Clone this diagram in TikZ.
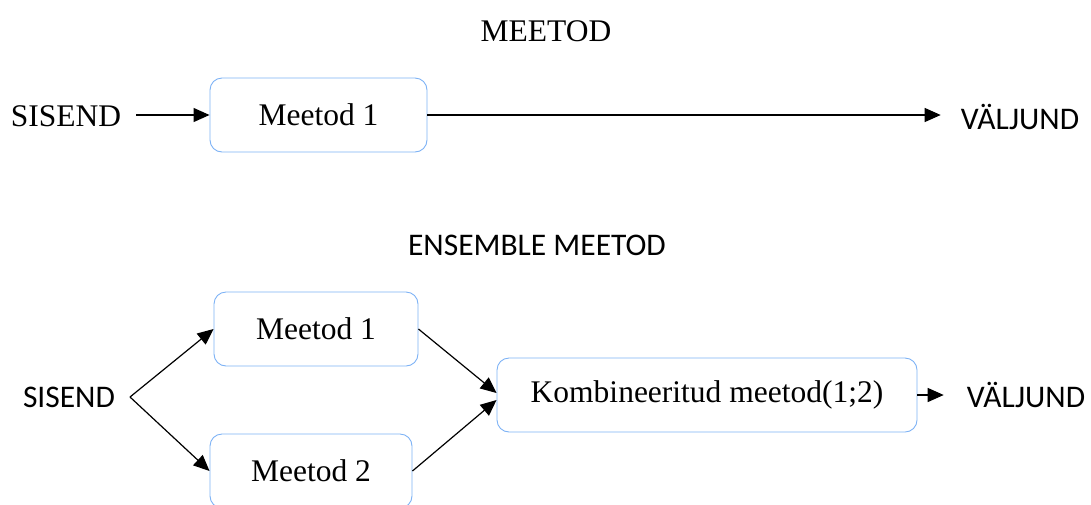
\documentclass[tikz,border=0pt]{standalone}
\usepackage{fontspec}
\setmainfont{Liberation Serif}
\newfontfamily\carlito{Carlito}
\usetikzlibrary{arrows.meta,calc}
\definecolor{boxblue}{RGB}{125,178,245}
\begin{document}
\begin{tikzpicture}[x=1pt,y=-1pt,
  txt/.style={inner sep=0pt,font=\fontsize{31.5}{37}\selectfont},
  stxt/.style={inner sep=0pt,font=\carlito\fontsize{31.5}{37}\selectfont},
  mbox/.style={draw=boxblue,line width=0.9pt,rounded corners=12pt,minimum height=74pt,inner sep=0pt,font=\fontsize{31.5}{37}\selectfont},
  conn/.style={line width=1.2pt,-{Triangle[length=16pt,width=14pt]}}]
\clip (0,0) rectangle (1091,504);
% top
\node[txt] (t1) at (546,31) {MEETOD};
\node[txt] (in1) at (66,116) {SISEND};
\node[mbox,minimum width=217pt] (m1) at (318.5,115) {Meetod 1};
\node[stxt] (out1) at (1020,117) {VÄLJUND};
\draw[conn,shorten <=15pt] (in1.east |- m1.west) -- (m1.west);
\draw[conn,shorten >=20pt] (m1.east) -- (m1.east -| out1.west);
% bottom
\node[stxt] (t2) at (537,245) {ENSEMBLE MEETOD};
\node[stxt] (in2) at (69,397) {SISEND};
\coordinate (fork) at (130,397);
\node[mbox,minimum width=204pt] (m1b) at (316,329) {Meetod 1};
\node[mbox,minimum width=202pt] (m2b) at (311,471) {Meetod 2};
\node[mbox,minimum width=420pt] (comb) at (707,395) {Kombineeritud meetod(1;2)};
\node[stxt] (out2) at (1026,395) {VÄLJUND};
\draw[conn] (fork) -- (m1b.west);
\draw[conn] (fork) -- (m2b.west);
\draw[conn] (m1b.east) -- ($(comb.west)+(0,-2)$);
\draw[conn] (m2b.east) -- ($(comb.west)+(0,5)$);
\draw[conn,shorten >=23pt] (comb.east) -- (comb.east -| out2.west);
\end{tikzpicture}
\end{document}
